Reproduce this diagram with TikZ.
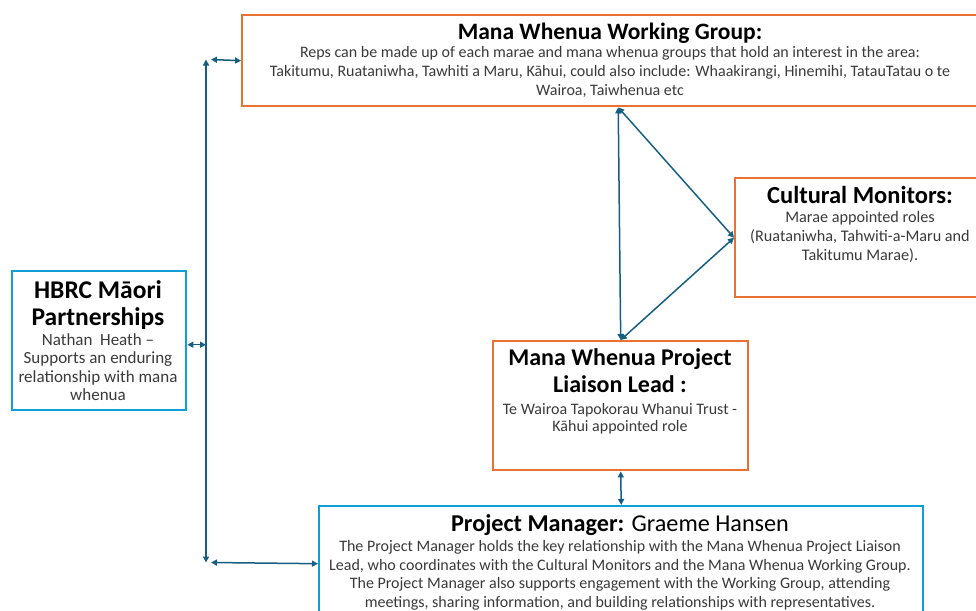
\documentclass[tikz,border=0pt]{standalone}
\usepackage{fontspec}
\setmainfont{Carlito}
\usetikzlibrary{arrows.meta}
\definecolor{boxorange}{HTML}{E97132}
\definecolor{boxblue}{HTML}{0F9ED5}
\definecolor{linkblue}{HTML}{156082}
\definecolor{bodygrey}{HTML}{3A3A3A}

\begin{document}
\begin{tikzpicture}[x=1pt,y=-1pt,
  obox/.style={draw=boxorange,line width=2.4pt,inner sep=0pt,anchor=north west},
  bbox/.style={draw=boxblue,line width=2.4pt,inner sep=0pt,anchor=north west},
  head/.style={inner sep=0pt,anchor=north,align=center,font={\fontsize{23.5}{27}\selectfont\bfseries}},
  body/.style={inner sep=0pt,anchor=north,align=center,text=bodygrey,font={\fontsize{16}{19}\selectfont}},
  link/.style={{Triangle[length=6pt,width=6pt]}-{Triangle[length=6pt,width=6pt]},line width=1.5pt,draw=linkblue}]
\clip (0,0) rectangle (976,610);
\fill[white] (0,0) rectangle (976,610);
% the five boxes
\node[obox,minimum width=738pt,minimum height=91pt] (wg) at (241,14) {};
\node[obox,minimum width=252pt,minimum height=119pt] (cm) at (734,177) {};
\node[bbox,minimum width=174pt,minimum height=139pt] (hbrc) at (11,270) {};
\node[obox,minimum width=255pt,minimum height=129pt] (lead) at (492,340) {};
\node[bbox,minimum width=604pt,minimum height=115pt] (pm) at (318,505) {};
% box texts
\node[head] (wgtitle) at (610,23) {Mana Whenua Working Group:};
\node[body] (wgtext) at (610,46.5) {Reps can be made up of each marae and mana whenua groups that hold an interest in the area:\\
  Takitumu, Ruataniwha, Tawhiti a Maru, Kāhui, could also include: Whaakirangi, Hinemihi, TatauTatau o te\\
  Wairoa, Taiwhenua etc};
\node[head,font={\fontsize{24.5}{27}\selectfont\bfseries}] (cmtitle) at (860,186) {Cultural Monitors:};
\node[body,font={\fontsize{16.2}{19}\selectfont}] (cmtext) at (860,211) {Marae appointed roles\\
  (Ruataniwha, Tahwiti-a-Maru and\\Takitumu Marae).};
\node[head,font={\fontsize{25.5}{27}\selectfont\bfseries}] (hbrctitle) at (98,280) {HBRC Māori\\Partnerships};
\node[body,font={\fontsize{17}{18.5}\selectfont}] (hbrctext) at (98,333) {Nathan\ \ Heath –\\Supports an enduring\\
  relationship with mana\\whenua};
\node[head,font={\fontsize{24}{27}\selectfont\bfseries}] (leadtitle) at (620,348) {Mana Whenua Project\\Liaison Lead :};
\node[body,font={\fontsize{16}{17.5}\selectfont}] (leadtext) at (620,403) {Te Wairoa Tapokorau Whanui Trust -\\Kāhui appointed role};
\node[head,font={\fontsize{24.2}{27}\selectfont\bfseries}] (pmtitle) at (620,514) {Project Manager: {\mdseries Graeme Hansen}};
\node[body,font={\fontsize{16}{18.5}\selectfont}] (pmtext) at (620,540.5) {The Project Manager holds the key relationship with the Mana Whenua Project Liaison\\
  Lead, who coordinates with the Cultural Monitors and the Mana Whenua Working Group.\\
  The Project Manager also supports engagement with the Working Group, attending\\
  meetings, sharing information, and building relationships with representatives.};
% the spine on the left
\coordinate (spinetop) at (206,59.5);
\coordinate (spinebot) at (206,562.5);
\coordinate (wgend) at (211,59.5);
\coordinate (pmend) at (211,562.5);
\draw[link] (spinetop) -- (spinebot);
\draw[link] (wgend) -- (wg.west);
\draw[link] (pmend) -- (pm.west);
\draw[link] ([yshift=-4pt]hbrc.east) -- ([yshift=-4pt]hbrc.east -| spinetop);
% links between the orange boxes
\draw[link] ([xshift=7pt]wg.south) -- (lead.north);
\draw[link] ([xshift=7pt]wg.south) -- (cm.west);
\draw[link] (lead.north) -- (cm.west);
\draw[link] (lead.south) -- (pm.north);
\end{tikzpicture}
\end{document}
